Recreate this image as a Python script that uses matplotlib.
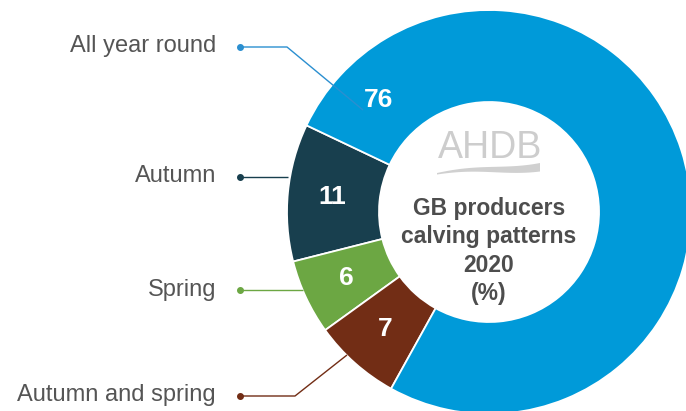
import numpy as np
import matplotlib.pyplot as plt
from matplotlib.patches import Polygon

# calving pattern shares, drawn counter-clockwise from the upper left
categories = ["Autumn", "Spring", "Autumn and spring", "All year round"]
values = [11, 6, 7, 76]
colors = ["#183f4e", "#6ca743", "#722d15", "#009ad9"]
line_colors = ["#183f4e", "#6ca743", "#722d15", "#2b8fd0"]
center_lines = ["GB producers", "calving patterns", "2020", "(%)"]

W, H = 686, 411
TXT = "#4d4d4d"
FONT = ["Liberation Sans", "DejaVu Sans"]


def img(x, y):
    """Image pixel coords (y down) -> axes data coords (y up)."""
    return x, H - y


fig = plt.figure(figsize=(W / 100, H / 100), dpi=100)
ax = fig.add_axes([0, 0, 1, 1])

cx, cy = img(489, 212)
r_out, r_in = 202, 110
wedges, _ = ax.pie(
    values,
    colors=colors,
    startangle=154.6,
    counterclock=True,
    center=(cx, cy),
    radius=r_out,
    wedgeprops=dict(width=r_out - r_in, edgecolor="white", linewidth=1.3),
)
ax.set_xlim(0, W)
ax.set_ylim(0, H)
ax.set_aspect("equal")
ax.axis("off")

# value labels inside the ring
r_mid = (r_out + r_in) / 2 + 1
for w, v in zip(wedges, values):
    ang = (w.theta1 + w.theta2) / 2 if v < 50 else w.theta2 - 20
    a = np.deg2rad(ang)
    ax.text(cx + r_mid * np.cos(a), cy + r_mid * np.sin(a), str(v),
            color="white", fontsize=19, fontweight="bold", family=FONT,
            ha="center", va="center")

# category labels with leader lines
label_y = [176, 290, 395, 46]
leaders = [
    [(240, 177), (288, 177)],
    [(240, 290), (303, 290)],
    [(240, 396), (295, 396), (347, 355)],
    [(240, 47), (287, 47), (363, 110)],
]
for name, ly, pts, lc in zip(categories, label_y, leaders, line_colors):
    xs, ys = zip(*[img(*p) for p in pts])
    ax.plot(xs, ys, color=lc, linewidth=1.0, solid_capstyle="butt")
    ax.plot(xs[0], ys[0], "o", color=lc, markersize=4)
    ax.text(*img(216, ly), name, color="#555555", fontsize=17, family=FONT,
            ha="right", va="center")

# centre title
for i, line in enumerate(center_lines):
    ax.text(*img(489, 208 + 28.5 * i), line, color=TXT, fontsize=16.5,
            fontweight="bold", family=FONT, ha="center", va="center")

# AHDB logo
ax.text(*img(490, 148), "AHDB", color="#cdcdcd", fontsize=27,
        family=FONT, ha="center", va="center")
t = np.linspace(0, 1, 60)
xs = 437 + 103 * t
top = 173 - 7 * np.sin(np.pi * t) * (1 - t) - 10 * t ** 2
bot = top + 1.5 + 7 * t
pts = [img(x, y) for x, y in zip(xs, top)] + [img(x, y) for x, y in zip(xs[::-1], bot[::-1])]
ax.add_patch(Polygon(pts, closed=True, facecolor="#d0d0d0", edgecolor="none"))

fig.savefig("out.png", dpi=100)
